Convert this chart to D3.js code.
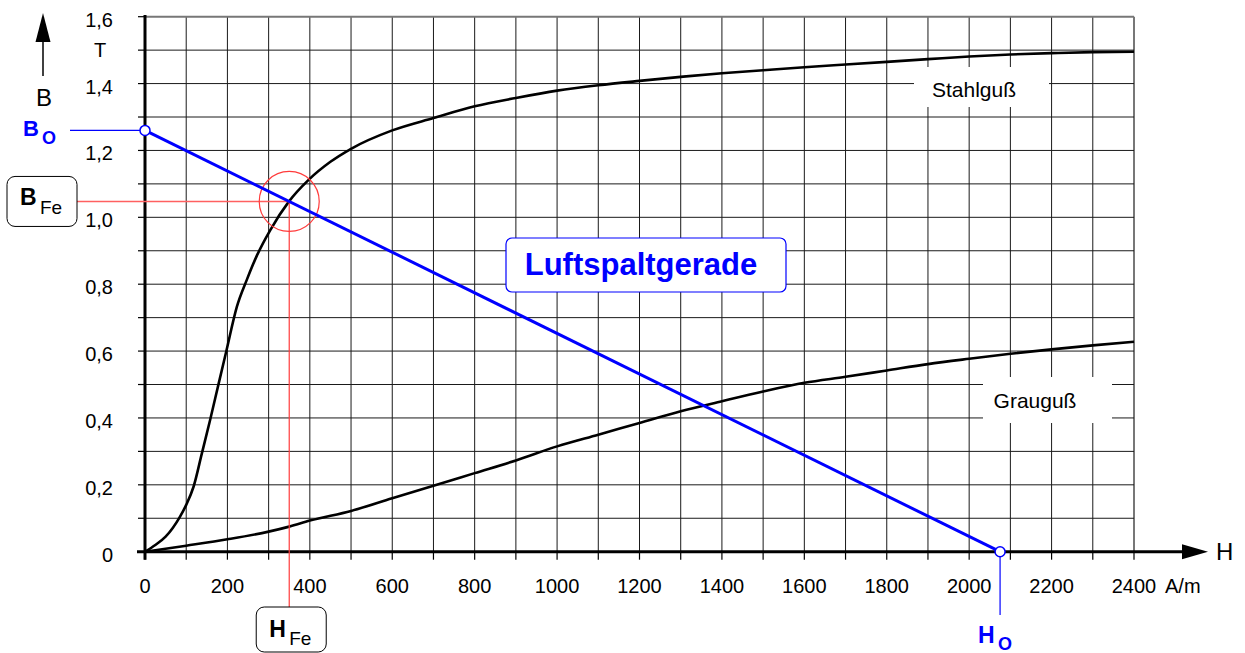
<!DOCTYPE html>
<html>
<head>
<meta charset="utf-8">
<script src="https://cdn.jsdelivr.net/npm/d3@7"></script>
<style>
  html, body { margin: 0; padding: 0; background: #fff; }
  svg { display: block; font-family: "Liberation Sans", Arial, Helvetica, sans-serif; }
</style>
</head>
<body>
<svg id="chart" width="1245" height="653"></svg>
<script>
// Magnetisierungskennlinien (B über H) mit Luftspaltgerade

// Stahlguß
const stahlH = [0, 25, 50, 85, 100, 118, 138, 158, 178, 197, 223, 247, 272, 304, 349, 397, 450, 500, 600, 700, 800, 900, 1000, 1100, 1200, 1300, 1400, 1500, 1600, 1700, 1800, 1900, 2000, 2100, 2200, 2300, 2400];
const stahlB = [0, 0.02, 0.045, 0.105, 0.14, 0.195, 0.294, 0.394, 0.499, 0.598, 0.733, 0.813, 0.887, 0.962, 1.047, 1.112, 1.166, 1.205, 1.26, 1.297, 1.332, 1.357, 1.379, 1.395, 1.408, 1.42, 1.431, 1.44, 1.449, 1.457, 1.465, 1.473, 1.481, 1.487, 1.491, 1.494, 1.495];

// Grauguß
const grauH = [0, 100, 200, 300, 350, 400, 500, 600, 700, 800, 900, 1000, 1100, 1200, 1300, 1400, 1500, 1600, 1700, 1800, 1900, 2000, 2100, 2200, 2300, 2400];
const grauB = [0, 0.018, 0.037, 0.06, 0.075, 0.093, 0.122, 0.16, 0.197, 0.235, 0.273, 0.315, 0.35, 0.385, 0.42, 0.45, 0.479, 0.505, 0.523, 0.542, 0.561, 0.577, 0.592, 0.605, 0.617, 0.628];

// Luftspaltgerade: B_O auf der B-Achse, H_O auf der H-Achse
const B0 = 1.26;
const H0 = 2075;
// Arbeitspunkt
const HFe = 350;
const BFe = B0 * (1 - HFe / H0);

// Achsenbeschriftung
const xTickValues = [0, 200, 400, 600, 800, 1000, 1200, 1400, 1600, 1800, 2000, 2200, 2400];
const yTickValues = [0, 0.2, 0.4, 0.6, 0.8, 1.0, 1.2, 1.4, 1.6];
const yTickLabels = ["0", "0,2", "0,4", "0,6", "0,8", "1,0", "1,2", "1,4", "1,6"];

const svg = d3.select("#chart");
const x = d3.scaleLinear().domain([0, 2400]).range([145, 1134]);
const y = d3.scaleLinear().domain([0, 1.6]).range([551.7, 16.7]);

// Gitter
const grid = svg.append("g").attr("stroke", "#1a1a1a").attr("stroke-width", 1).attr("fill", "none");
grid.selectAll("line.v").data(d3.range(100, 2401, 100)).join("line")
  .attr("x1", d => x(d)).attr("x2", d => x(d))
  .attr("y1", y(0)).attr("y2", y(1.6))
  .attr("stroke", d => d === 2400 ? "#777" : "#1a1a1a")
  .attr("stroke-width", d => d === 2400 ? 2 : 1);
grid.selectAll("line.h").data(d3.range(1, 17).map(i => i / 10)).join("line")
  .attr("x1", x(0)).attr("x2", x(2400))
  .attr("y1", d => y(d)).attr("y2", d => y(d))
  .attr("stroke", d => d === 1.6 ? "#777" : "#1a1a1a")
  .attr("stroke-width", d => d === 1.6 ? 2 : 1);

// Beschriftungsfelder der Kennlinien (überdecken das Gitter)
svg.append("rect").attr("x", 914).attr("y", 67).attr("width", 135).attr("height", 40).attr("fill", "#fff");
svg.append("rect").attr("x", 983).attr("y", 377).attr("width", 129).attr("height", 46).attr("fill", "#fff");

// Kennlinien
const line = d3.line().x(d => x(d[0])).y(d => y(d[1])).curve(d3.curveMonotoneX);
svg.append("path").datum(d3.zip(stahlH, stahlB)).attr("d", line)
  .attr("fill", "none").attr("stroke", "#000").attr("stroke-width", 2.6);
svg.append("path").datum(d3.zip(grauH, grauB)).attr("d", line)
  .attr("fill", "none").attr("stroke", "#000").attr("stroke-width", 2.6);

svg.append("text").attr("x", 974).attr("y", 97).attr("text-anchor", "middle")
  .attr("font-size", 21).text("Stahlguß");
svg.append("text").attr("x", 1035).attr("y", 408).attr("text-anchor", "middle")
  .attr("font-size", 21).text("Grauguß");

// Achsen
const axes = svg.append("g").attr("stroke", "#000");
axes.append("line").attr("x1", x(0)).attr("x2", x(0)).attr("y1", 15).attr("y2", y(0) + 8).attr("stroke-width", 3);
axes.append("line").attr("x1", x(0) - 8).attr("x2", 1185).attr("y1", y(0)).attr("y2", y(0)).attr("stroke-width", 3);
axes.selectAll("line.yt").data(d3.range(0, 17).map(i => i / 10)).join("line")
  .attr("x1", x(0) - 7).attr("x2", x(0)).attr("y1", d => y(d)).attr("y2", d => y(d)).attr("stroke-width", 1.2);
axes.selectAll("line.xt").data(d3.range(0, 2401, 100)).join("line")
  .attr("x1", d => x(d)).attr("x2", d => x(d)).attr("y1", y(0)).attr("y2", y(0) + 8).attr("stroke-width", 1.2);

// Pfeil H
svg.append("path").attr("d", `M1182,${y(0) - 7.5} L1208,${y(0)} L1182,${y(0) + 7.5} Z`).attr("fill", "#000");
svg.append("text").attr("x", 1216).attr("y", y(0) + 8.5).attr("font-size", 24).text("H");

// Pfeil B
svg.append("line").attr("x1", 43).attr("x2", 43).attr("y1", 76).attr("y2", 40).attr("stroke", "#000").attr("stroke-width", 1.5);
svg.append("path").attr("d", "M35.5,42 L43,13 L50.5,42 Z").attr("fill", "#000");
svg.append("text").attr("x", 44).attr("y", 106).attr("text-anchor", "middle").attr("font-size", 24).text("B");
svg.append("text").attr("x", 100).attr("y", 57).attr("text-anchor", "middle").attr("font-size", 20).text("T");

// Skalen
svg.append("g").selectAll("text").data(xTickValues).join("text")
  .attr("x", d => x(d)).attr("y", y(0) + 41).attr("text-anchor", "middle")
  .attr("font-size", 20).text(d => d);
svg.append("text").attr("x", 1165).attr("y", y(0) + 41).attr("font-size", 20).text("A/m");
svg.append("g").selectAll("text").data(yTickValues).join("text")
  .attr("x", 113).attr("y", d => y(d) + 10).attr("text-anchor", "end")
  .attr("font-size", 20).text((d, i) => yTickLabels[i]);

// Arbeitspunkt (rot)
const red = "#ff3b3b";
svg.append("line").attr("x1", 77).attr("x2", x(HFe)).attr("y1", y(BFe)).attr("y2", y(BFe))
  .attr("stroke", "#ff6060").attr("stroke-width", 1.6);
svg.append("line").attr("x1", x(HFe)).attr("x2", x(HFe)).attr("y1", y(BFe)).attr("y2", 607)
  .attr("stroke", red).attr("stroke-width", 1.2);
svg.append("circle").attr("cx", x(HFe)).attr("cy", y(BFe)).attr("r", 30)
  .attr("fill", "none").attr("stroke", red).attr("stroke-width", 1.2);

// Luftspaltgerade (blau)
const blue = "#0000ff";
svg.append("line").attr("x1", 70).attr("x2", x(0)).attr("y1", y(B0)).attr("y2", y(B0))
  .attr("stroke", blue).attr("stroke-width", 1.2);
svg.append("line").attr("x1", x(H0)).attr("x2", x(H0)).attr("y1", y(0)).attr("y2", 615)
  .attr("stroke", blue).attr("stroke-width", 1.2);
svg.append("line").attr("x1", x(0)).attr("y1", y(B0)).attr("x2", x(H0)).attr("y2", y(0))
  .attr("stroke", blue).attr("stroke-width", 3);
svg.selectAll("circle.end").data([[0, B0], [H0, 0]]).join("circle")
  .attr("cx", d => x(d[0])).attr("cy", d => y(d[1])).attr("r", 5)
  .attr("fill", "#fff").attr("stroke", blue).attr("stroke-width", 1.5);

// Beschriftung Luftspaltgerade
svg.append("rect").attr("x", 506).attr("y", 238).attr("width", 280).attr("height", 54).attr("rx", 6)
  .attr("fill", "#fff").attr("stroke", blue).attr("stroke-width", 1.2);
svg.append("text").attr("x", 641).attr("y", 275).attr("text-anchor", "middle")
  .attr("font-size", 31).attr("font-weight", "bold").attr("fill", blue).text("Luftspaltgerade");

// B_O und H_O
const bo = svg.append("text").attr("fill", blue).attr("font-weight", "bold");
bo.append("tspan").attr("x", 23).attr("y", y(B0) + 6).attr("font-size", 22).text("B");
bo.append("tspan").attr("x", 42).attr("y", y(B0) + 14).attr("font-size", 18).text("O");
const ho = svg.append("text").attr("fill", blue).attr("font-weight", "bold");
ho.append("tspan").attr("x", x(H0) - 22).attr("y", 643).attr("font-size", 23).text("H");
ho.append("tspan").attr("x", x(H0) - 2).attr("y", 650).attr("font-size", 18).text("O");

// B_Fe und H_Fe
svg.append("rect").attr("x", 7).attr("y", y(BFe) - 25).attr("width", 70).attr("height", 50).attr("rx", 8)
  .attr("fill", "#fff").attr("stroke", "#000").attr("stroke-width", 1);
const bfe = svg.append("text").attr("fill", "#000");
bfe.append("tspan").attr("x", 20).attr("y", y(BFe) + 4).attr("font-size", 23).attr("font-weight", "bold").text("B");
bfe.append("tspan").attr("x", 40).attr("y", y(BFe) + 13).attr("font-size", 19).text("Fe");

svg.append("rect").attr("x", x(HFe) - 33).attr("y", 607).attr("width", 70).attr("height", 45).attr("rx", 8)
  .attr("fill", "#fff").attr("stroke", "#000").attr("stroke-width", 1);
const hfe = svg.append("text").attr("fill", "#000");
hfe.append("tspan").attr("x", x(HFe) - 20).attr("y", 637).attr("font-size", 23).attr("font-weight", "bold").text("H");
hfe.append("tspan").attr("x", x(HFe) + 0).attr("y", 645).attr("font-size", 19).text("Fe");
</script>
</body>
</html>
